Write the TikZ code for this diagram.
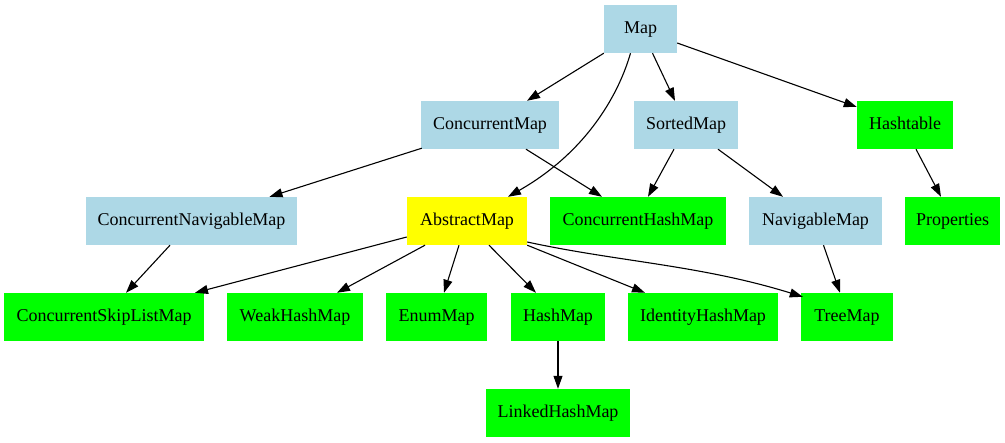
\documentclass[tikz,border=0pt]{standalone}
\usepackage{fontspec}
\setmainfont{Liberation Serif}
\usetikzlibrary{arrows.meta,calc}
\definecolor{lblue}{HTML}{ADD8E6}
\definecolor{lgreen}{HTML}{00FF00}
\definecolor{lyellow}{HTML}{FFFF00}
\tikzset{
  box/.style={rectangle, inner sep=0pt, minimum height=48pt, text height=12.5pt, text depth=4pt, font=\fontsize{18pt}{20pt}\selectfont},
  iface/.style={box, fill=lblue},
  impl/.style={box, fill=lgreen},
  abst/.style={box, fill=lyellow},
  edge/.style={draw=black, line width=1.1pt, -{Triangle[length=13pt,width=9pt]}}
}
\begin{document}
\begin{tikzpicture}[x=1pt,y=-1pt]
\useasboundingbox (0,0) rectangle (1005,443);
% row 1
\node[iface, minimum width=73pt] (Map) at (640.5,29) {Map};
% row 2
\node[iface, minimum width=138pt] (CM) at (490,125) {ConcurrentMap};
\node[iface, minimum width=104pt] (SM) at (686,125) {SortedMap};
\node[impl, minimum width=96pt] (HT) at (905,125) {Hashtable};
% row 3
\node[iface, minimum width=211pt] (CNM) at (191.5,221) {ConcurrentNavigableMap};
\node[abst, minimum width=120pt] (AM) at (467,221) {AbstractMap};
\node[impl, minimum width=176pt] (CHM) at (638,221) {ConcurrentHashMap};
\node[iface, minimum width=133pt] (NM) at (815.5,221) {NavigableMap};
\node[impl, minimum width=95pt] (PR) at (952.5,221) {Properties};
% row 4
\node[impl, minimum width=200pt] (CSLM) at (104,317) {ConcurrentSkipListMap};
\node[impl, minimum width=136pt] (WHM) at (295,317) {WeakHashMap};
\node[impl, minimum width=101pt] (EM) at (436.5,317) {EnumMap};
\node[impl, minimum width=94pt] (HM) at (558,317) {HashMap};
\node[impl, minimum width=150pt] (IHM) at (703,317) {IdentityHashMap};
\node[impl, minimum width=92pt] (TM) at (847,317) {TreeMap};
% row 5
\node[impl, minimum width=144pt] (LHM) at (558,413) {LinkedHashMap};

% edges
\draw[edge] (Map.south west) -- ($(CM.north)+(37,0)$);
\draw[edge] ($(Map.south)+(-10,0)$) .. controls (620,90) and (590,150) .. ($(AM.north)+(41,0)$);
\draw[edge] ($(Map.south)+(12,0)$) -- ($(SM.north)+(-11,0)$);
\draw[edge] ($(Map.east)+(0,14)$) -- ($(HT.west)+(0,-18)$);
\draw[edge] ($(HT.south)+(11,0)$) -- ($(PR.north)+(-11.5,0)$);
\draw[edge] ($(SM.south)+(32,0)$) -- ($(NM.north)+(-32.5,0)$);
\draw[edge] ($(SM.south)+(-12,0)$) -- ($(CHM.north)+(10,0)$);
\draw[edge] ($(CM.south)+(36,0)$) -- ($(CHM.north)+(-36,0)$);
\draw[edge] ($(CM.south west)+(1,-1)$) -- ($(CNM.north)+(78,0)$);
\draw[edge] ($(CNM.south)+(-21.5,0)$) -- ($(CSLM.north)+(22,0)$);
\draw[edge] ($(AM.west)+(0,16)$) -- ($(CSLM.north)+(91,0)$);
\draw[edge] ($(AM.south)+(-42,0)$) -- ($(WHM.north)+(42,0)$);
\draw[edge] ($(AM.south)+(-8,0)$) -- ($(EM.north)+(7.5,0)$);
\draw[edge] ($(AM.south)+(22,0)$) -- ($(HM.north)+(-22,0)$);
\draw[edge] (AM.south east) -- ($(IHM.north)+(-58,0)$);
\draw[edge] ($(AM.east)+(0,21)$) .. controls (620,262) and (700,265) .. ($(TM.north west)+(2,4)$);
\draw[edge] ($(NM.south)+(8,0)$) -- ($(TM.north)+(-7,0)$);
\draw[edge] (HM.south) -- (LHM.north);
\end{tikzpicture}
\end{document}
